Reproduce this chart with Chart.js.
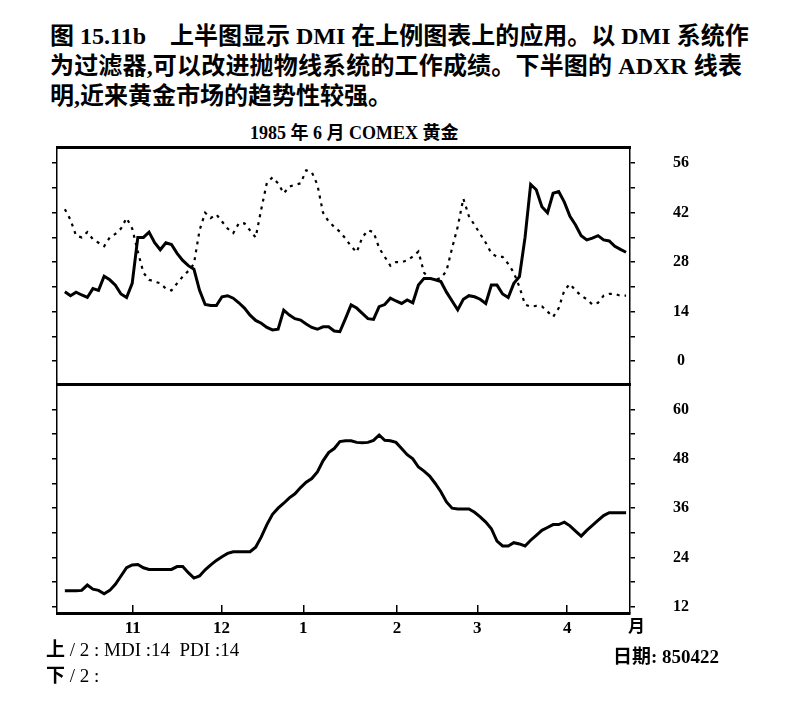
<!DOCTYPE html>
<html lang="zh-CN">
<head>
<meta charset="utf-8">
<title>1985 年 6 月 COMEX 黄金 DMI / ADXR</title>
<script src="https://cdn.jsdelivr.net/npm/chart.js@4.4.1/dist/chart.umd.min.js"></script>
<style>
  body { margin: 0; background: #fff; }
  #page { position: relative; width: 791px; height: 703px; color: #000;
          font-family: 'Liberation Serif', 'Noto Sans CJK SC', serif; }
  .cap { position: absolute; left: 50px; width: 692px; font-size: 24px; font-weight: bold; line-height: 30px; white-space: nowrap; }
  .just { text-align: justify; text-align-last: justify; }
  .txt { position: absolute; font-size: 19px; line-height: 22px; white-space: pre; }
  canvas { position: absolute; left: 0; }
</style>
</head>
<body>
<div id="page">
  <div class="cap just" style="top:21px">图 15.11b&nbsp;&nbsp;&nbsp; 上半图显示 DMI 在上例图表上的应用。以 DMI 系统作</div>
  <div class="cap just" style="top:51px">为过滤器,可以改进抛物线系统的工作成绩。下半图的 ADXR 线表</div>
  <div class="cap" style="top:81px">明,近来黄金市场的趋势性较强。</div>

  <div class="txt" style="left:250px; top:122px; width:200px; text-align:center; font-size:18px; font-weight:bold">1985 年 6 月 COMEX 黄金</div>

  <canvas id="dmi" width="791" height="250" style="top:140px"></canvas>
  <canvas id="adxr" width="791" height="265" style="top:380px"></canvas>

  <div class="txt" style="left:628px; top:616px; font-size:17px; font-weight:bold">月</div>
  <div class="txt" style="left:46px; top:639px"><b>上</b> / 2 : MDI :14  PDI :14</div>
  <div class="txt" style="left:46px; top:665px"><b>下</b> / 2 :</div>
  <div class="txt" style="left:613px; top:646px; font-weight:bold">日期: 850422</div>
</div>

<script>
// daily readings, Oct 1984 .. 22 Apr 1985 (one value per trading day step)
const pdiValues = [
  19.6, 18.5, 19.5, 18.7, 18, 20.5, 20, 24, 23, 21.5,
  19, 18, 22, 35, 35, 36.5, 33.5, 31.5, 33.5, 33,
  30.5, 28.5, 27, 26, 20, 16, 15.7, 15.7, 18.2, 18.5,
  17.8, 16.5, 15, 13, 11.5, 10.7, 9.5, 8.8, 9, 14.4,
  13, 12, 11.6, 10.5, 9.5, 9, 9.7, 9.7, 8.5, 8.3,
  12, 15.9, 15, 13.5, 12, 11.8, 15.4, 16, 17.8, 17,
  16.3, 17.3, 16.5, 21.5, 23.4, 23.4, 23, 22.5, 19.5, 17,
  14.5, 17.5, 18.5, 18.2, 17.5, 16.3, 21.5, 21.5, 19, 18,
  22, 23.9, 35, 50, 48.5, 43.7, 42, 47.5, 48, 45,
  41, 38.5, 35.5, 34.3, 34.8, 35.5, 34.3, 34, 32.5, 31.6,
  30.8
];
const mdiValues = [
  43, 40, 35.5, 35, 36.5, 34.5, 33.5, 32.5, 35, 36,
  37.5, 40.5, 37.5, 31, 25, 23, 22.5, 22, 20.5, 20,
  22, 23.9, 25.5, 27.5, 37, 42, 40.5, 41.5, 39.5, 37.5,
  36.2, 39, 39, 37, 35, 43, 50.5, 52, 50.3, 47.5,
  49.4, 49.9, 50.3, 54, 53.5, 49.9, 42, 39.5, 38, 36.6,
  34.7, 32.5, 30.8, 35, 37, 36.5, 32, 29.5, 27, 28,
  28, 28.5, 29.6, 31, 25, 23.5, 23, 23.5, 25.5, 32,
  38, 46, 41, 38.5, 36, 33.5, 30.5, 29.5, 29.5, 27.5,
  25, 21, 16, 15.4, 15.6, 15.5, 14, 12.5, 15, 20,
  21.8, 20, 18.5, 17.5, 16, 16.5, 18.5, 19, 19, 18.5,
  18.5
];
const adxrValues = [
  15.9, 15.9, 15.9, 16, 17.3, 16.3, 16, 15.2, 16, 17.5,
  19.5, 21.5, 22.2, 22.3, 21.5, 21.1, 21.1, 21.1, 21.1, 21.1,
  21.8, 21.8, 20.3, 19, 19.5, 21, 22.2, 23.3, 24.2, 25,
  25.4, 25.4, 25.4, 25.4, 26.5, 29, 32, 34.5, 36, 37.2,
  38.5, 39.5, 41, 42.3, 43.2, 44.8, 47.5, 49.5, 50.5, 52.2,
  52.4, 52.4, 52, 51.9, 52, 52.5, 53.8, 52.5, 52.4, 52,
  50.5, 49, 48, 46, 45, 43.8, 42, 40, 37.5, 36,
  35.8, 35.8, 35.8, 35, 33.9, 32.6, 31, 28, 26.8, 26.8,
  27.6, 27.3, 26.8, 28.2, 29.4, 30.6, 31.3, 32, 32, 32.6,
  31.7, 30.4, 29.2, 30.6, 31.8, 33, 34.2, 34.9, 34.9, 34.9,
  34.9
];
const tradingDays = pdiValues.map((_, i) => i);

const monthStarts = [12.1, 27.9, 42.5, 59.2, 73.5, 89.5];
const monthLabels = ['11', '12', '1', '2', '3', '4'];

const dmiTicks = [0, 7, 14, 21, 28, 35, 42, 49, 56];
const dmiLabels = [0, 14, 28, 42, 56];
const adxrTicks = [12, 18, 24, 30, 36, 42, 48, 54, 60];
const adxrLabels = [12, 24, 36, 48, 60];

const X_MIN = -1.4, X_MAX = 100.7;

Chart.defaults.font.family = "'Liberation Serif', 'Noto Sans CJK SC', serif";
Chart.defaults.color = '#000';
Chart.defaults.animation = false;

function tickMarks(values) {
  return scale => { scale.ticks = values.map(v => ({ value: v })); };
}

// fixed axis width; drop the label overhang so the plot keeps its full height
function fixWidth(w) {
  return s => { s.width = w; s.paddingTop = 0; s.paddingBottom = 0; };
}

function sideAxes(min, max, ticks, labels, rightDash) {
  return {
    yLeft: {
      position: 'left', min, max,
      afterBuildTicks: tickMarks(ticks),
      ticks: { display: false },
      grid: { drawOnChartArea: false, tickLength: 5, lineWidth: 1.5, color: '#000' },
      border: { width: 1.5, color: '#000' },
      afterFit: fixWidth(57)
    },
    y: {
      position: 'right', min, max,
      afterBuildTicks: tickMarks(ticks),
      ticks: {
        callback: v => labels.includes(v) ? v : '',
        font: { size: 16, weight: 'bold' },
        padding: 38, crossAlign: 'center'
      },
      grid: { drawOnChartArea: false, tickLength: 5, lineWidth: 1.5, color: '#000' },
      border: { width: 1.5, color: '#000', dash: rightDash },
      afterFit: fixWidth(161)
    }
  };
}

new Chart(document.getElementById('dmi'), {
  type: 'line',
  data: {
    labels: tradingDays,
    datasets: [
      { label: 'PDI', data: pdiValues, borderColor: '#000', borderWidth: 3, pointRadius: 0 },
      { label: 'MDI', data: mdiValues, borderColor: '#000', borderWidth: 2.2, borderDash: [3, 5], pointRadius: 0 }
    ]
  },
  options: {
    responsive: false,
    layout: { padding: { top: 6, left: 0, right: 0, bottom: 0 } },
    plugins: { legend: { display: false }, tooltip: { enabled: false } },
    scales: {
      x: {
        type: 'linear', min: X_MIN, max: X_MAX,
        ticks: { display: false }, grid: { display: false },
        border: { width: 3, color: '#000' },
        afterFit: s => { s.height = 6; }
      },
      xTop: {
        type: 'linear', position: 'top', min: X_MIN, max: X_MAX,
        ticks: { display: false }, grid: { display: false },
        border: { width: 3, color: '#000' },
        afterFit: s => { s.height = 1; }
      },
      ...sideAxes(-6.5, 60.6, dmiTicks, dmiLabels, [])
    }
  }
});

new Chart(document.getElementById('adxr'), {
  type: 'line',
  data: {
    labels: tradingDays,
    datasets: [
      { label: 'ADXR', data: adxrValues, borderColor: '#000', borderWidth: 3, pointRadius: 0 }
    ]
  },
  options: {
    responsive: false,
    layout: { padding: { top: 4, left: 0, right: 0, bottom: 0 } },
    plugins: { legend: { display: false }, tooltip: { enabled: false } },
    scales: {
      x: {
        type: 'linear', min: X_MIN, max: X_MAX,
        afterBuildTicks: tickMarks(monthStarts),
        ticks: {
          callback: (v, i) => monthLabels[i],
          font: { size: 17, weight: 'bold' },
          padding: 13, maxRotation: 0
        },
        grid: { drawOnChartArea: false, tickLength: -8, lineWidth: 1.5, color: '#000' },
        border: { width: 3, color: '#000' },
        afterFit: s => { s.height = 32; }
      },
      ...sideAxes(10.5, 66.2, adxrTicks, adxrLabels, [4, 3])
    }
  }
});
</script>
</body>
</html>
